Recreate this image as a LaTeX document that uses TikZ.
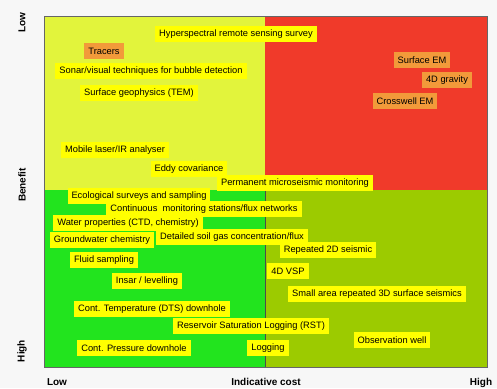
\documentclass[tikz,border=0pt]{standalone}
\usepackage{fontspec}
\setmainfont{Liberation Sans}
\usepackage{xcolor}
\usetikzlibrary{positioning}
\definecolor{quadlime}{HTML}{E2F43C}
\definecolor{quadred}{HTML}{F03A2A}
\definecolor{quadgreen}{HTML}{22E41E}
\definecolor{quadolive}{HTML}{9CCB00}
\definecolor{boxyellow}{HTML}{FFFF00}
\definecolor{boxorange}{HTML}{F29A3A}
\tikzset{option/.style={fill=boxyellow, inner xsep=4pt, inner ysep=0pt, minimum height=16pt, font=\fontsize{9.3}{10}\selectfont},
  costly/.style={option, fill=boxorange},
  axislabel/.style={font=\fontsize{10}{11}\selectfont\bfseries}}

\begin{document}
\begin{tikzpicture}[x=1pt,y=-1pt]
      \useasboundingbox[fill=white!97!black] (0,0) rectangle (497,388);

      % quadrants
      \fill[quadlime] (44,16) rectangle (265,190);
      \fill[quadred] (265,16) rectangle (487,190);
      \fill[quadgreen] (44,190) rectangle (265,367);
      \fill[quadolive] (265,190) rectangle (487,367);
      \draw[black!60, thin] (44,16) rectangle (487,367);
      \draw[black!70] (265,190) -- (265,367);

      % low benefit
      \node[option] (hyper) at (236,34) {Hyperspectral remote sensing survey};
      \node[costly] (tracers) at (104,51) {Tracers};
      \node[option] (sonar) at (151,71) {Sonar/visual techniques for bubble detection};
      \node[option] (tem) at (139,93) {Surface geophysics (TEM)};
      \node[option] (mobile) at (115,150) {Mobile laser/IR analyser};
      \node[option] (eddy) at (189,169) {Eddy covariance};
      \node[option] (micro) at (295,183) {Permanent microseismic monitoring};
      \node[costly] (surfem) at (422,60) {Surface EM};
      \node[costly] (gravity) at (447,80) {4D gravity};
      \node[costly] (crossem) at (405,101) {Crosswell EM};

      % high benefit
      \node[option] (eco) at (139,196) {Ecological surveys and sampling};
      \node[option] (contmon) at (204,209) {Continuous\ \ monitoring stations/flux networks};
      \node[option] (water) at (128,223) {Water properties (CTD, chemistry)};
      \node[option] (soilgas) at (232,237) {Detailed soil gas concentration/flux};
      \node[option] (ground) at (102,240) {Groundwater chemistry};
      \node[option] (fluid) at (104,260) {Fluid sampling};
      \node[option] (insar) at (147,281) {Insar / levelling};
      \node[option] (dts) at (152,309) {Cont. Temperature (DTS) downhole};
      \node[option] (rst) at (251,326) {Reservoir Saturation Logging (RST)};
      \node[option] (pressure) at (134,348) {Cont. Pressure downhole};
      \node[option] (logging) at (268,348) {Logging};
      \node[option] (seis2d) at (328,250) {Repeated 2D seismic};
      \node[option] (vsp) at (288,271) {4D VSP};
      \node[option] (seis3d) at (377,294) {Small area repeated 3D surface seismics};
      \node[option] (obswell) at (392,340) {Observation well};

      % axes
      \node[axislabel, rotate=90] (benlow) at (22,23) {Low};
      \node[axislabel, rotate=90] (benefit) at (22,185) {Benefit};
      \node[axislabel, rotate=90] (benhigh) at (22,351) {High};
      \node[axislabel, anchor=base] (costlow) at (57,385) {Low};
      \node[axislabel, anchor=base] (cost) at (266,385) {Indicative cost};
      \node[axislabel, anchor=base] (costhigh) at (481,385) {High};
    \end{tikzpicture}
\end{document}
